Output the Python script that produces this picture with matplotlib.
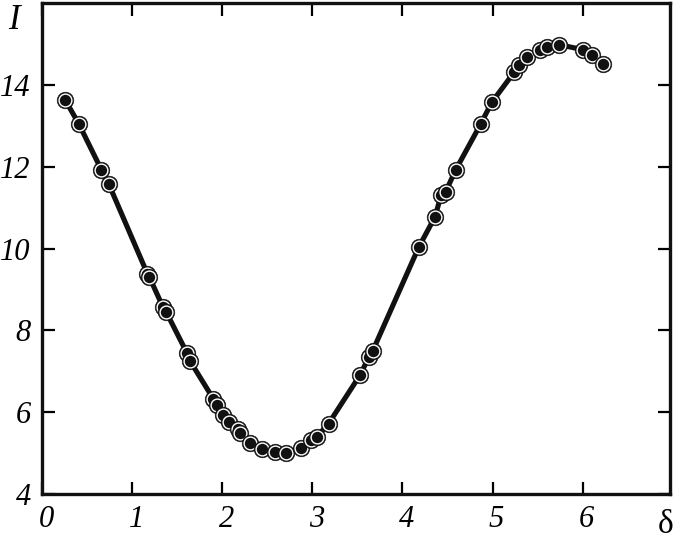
import matplotlib
matplotlib.use("Agg")
import matplotlib.pyplot as plt
from matplotlib.transforms import ScaledTranslation

# measured points (delta, I)
delta = [0.26, 0.41, 0.66, 0.74, 1.17, 1.19, 1.34, 1.38, 1.61, 1.64,
         1.90, 1.94, 2.01, 2.08, 2.17, 2.20, 2.31, 2.44, 2.58, 2.71,
         2.87, 2.99, 3.05, 3.18, 3.53, 3.63, 3.67, 4.18, 4.36, 4.43,
         4.48, 4.59, 4.87, 4.99, 5.24, 5.29, 5.38, 5.53, 5.60, 5.74,
         6.00, 6.10, 6.23]
intensity = [13.62, 13.04, 11.92, 11.58, 9.38, 9.31, 8.58, 8.44, 7.44, 7.26,
             6.33, 6.17, 5.93, 5.77, 5.59, 5.48, 5.24, 5.09, 5.02, 5.00,
             5.12, 5.31, 5.40, 5.72, 6.91, 7.36, 7.50, 10.03, 10.77, 11.31,
             11.39, 11.92, 13.05, 13.57, 14.31, 14.49, 14.67, 14.84, 14.92, 14.98,
             14.86, 14.73, 14.51]

xticks = [0, 1, 2, 3, 4, 5, 6]
yticks = [4, 6, 8, 10, 12, 14]

plt.rcParams["font.family"] = ["Liberation Serif", "DejaVu Serif"]
plt.rcParams["font.style"] = "italic"
plt.rcParams["font.size"] = 22

fig = plt.figure(figsize=(6.85, 5.43), dpi=100)
ax = fig.add_axes([0.0613, 0.0902, 0.917, 0.9043])

ax.plot(delta, intensity, color="#111111", lw=3.7, solid_capstyle="round", zorder=2)
for i, (x, y) in enumerate(zip(delta, intensity)):
    ax.plot([x], [y], marker="o", ms=12.0, mfc="#111111", mec="#111111", mew=0.4,
            ls="none", zorder=3 + 2 * i)
    ax.plot([x], [y], marker="o", ms=9.2, mfc="#111111", mec="white", mew=1.0,
            ls="none", zorder=4 + 2 * i)

ax.set_xlim(0, 6.97)
ax.set_ylim(4, 16)
ax.tick_params(direction="in", length=9, width=1.6, top=True, right=True,
               labelsize=22, pad=8)
ax.set_xticks(xticks)
ax.set_yticks(yticks)
ax.set_xticklabels([str(t) for t in xticks])
ax.set_yticklabels([str(t) for t in yticks])
shift = ScaledTranslation(4 / 100, 0, fig.dpi_scale_trans)
for lab in ax.get_xticklabels():
    lab.set_transform(lab.get_transform() + shift)
for s in ax.spines.values():
    s.set_linewidth(2.4)
    s.set_color("#111111")

ax.text(-0.035, 0.965, "I", transform=ax.transAxes, ha="right", va="center",
        family="Liberation Serif", style="italic", fontsize=25)
ax.text(0.993, -0.063, "δ", transform=ax.transAxes, ha="center", va="center",
        family="Liberation Serif", style="normal", fontsize=24)

fig.savefig("out.png", dpi=100)
